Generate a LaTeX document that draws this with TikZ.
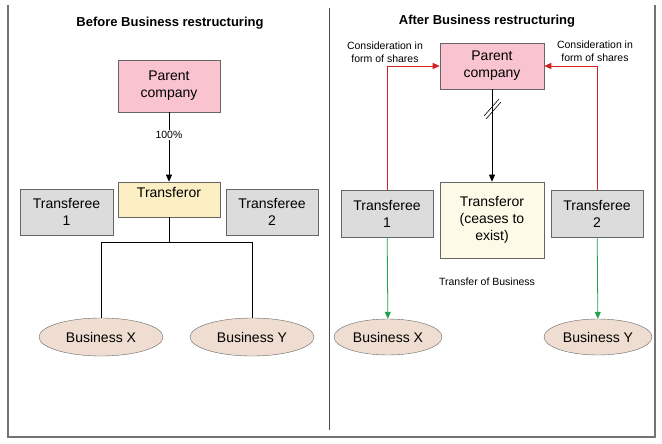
\documentclass[tikz,border=0pt]{standalone}
\usepackage{fontspec}
\setmainfont{Liberation Sans}
\usetikzlibrary{shapes.geometric,arrows.meta}
\definecolor{pinkc}{HTML}{F9C3CF}
\definecolor{yelc}{HTML}{FDEFC4}
\definecolor{creamc}{HTML}{FEFAE8}
\definecolor{grayc}{HTML}{DCDCDC}
\definecolor{ellc}{HTML}{EEDDD0}
\definecolor{redc}{HTML}{D42020}
\definecolor{greenc}{HTML}{20A050}
\begin{document}
\begin{tikzpicture}[x=1pt,y=-1pt,
  box/.style={draw=black!60,line width=0.6pt,inner sep=0pt,align=center,font=\fontsize{14}{17}\selectfont},
  ell/.style={ellipse,draw=black!60,fill=ellc,minimum width=124pt,minimum height=38pt,inner sep=0pt,font=\fontsize{14}{17}\selectfont},
  lbl/.style={font=\fontsize{10.5}{12.5}\selectfont,align=center},
  ttl/.style={font=\bfseries\fontsize{13}{15}\selectfont},
  arr/.style={-{Triangle[length=7pt,width=6pt]},line width=0.8pt}]
\useasboundingbox (0,0) rectangle (662,444);
\draw[black!55,line width=1.5pt] (8,5) -- (8,437) -- (655,437) -- (655,5);
\draw[black!70,line width=1pt] (329,8) -- (329,430);
% left
\node[ttl] (t1) at (170,23) {Before Business restructuring};
\node[box,fill=pinkc,minimum width=102pt,minimum height=52pt] (pc1) at (169,86) {Parent\\company};
\node[box,fill=yelc,minimum width=102pt,minimum height=35pt] (tf1) at (169,199.5) {Transferor\\[-3pt]\phantom{x}};
\node[box,fill=grayc,minimum width=93pt,minimum height=46pt] (te1) at (66.5,212) {Transferee\\1};
\node[box,fill=grayc,minimum width=92pt,minimum height=46pt] (te2) at (272,212) {Transferee\\2};
\node[lbl,fill=white,inner sep=1pt] (p100) at (169,135) {100\%};
\draw[arr] (pc1) -- (p100) -- (tf1);
\node[ell] (bx1) at (101,337) {Business X};
\node[ell] (by1) at (252,337) {Business Y};
\draw[line width=0.8pt] (tf1.south) -- ++(0,25) coordinate (j);
\draw[line width=0.8pt] (bx1.north) |- (j) -| (by1.north);
% right
\node[ttl] (t2) at (487,21) {After Business restructuring};
\node[box,fill=pinkc,minimum width=104pt,minimum height=46pt] (pc2) at (492,66) {Parent\\company};
\node[box,fill=creamc,minimum width=104pt,minimum height=76pt] (tf2) at (492,220) {Transferor\\(ceases to\\exist)};
\node[box,fill=grayc,minimum width=92pt,minimum height=47pt] (te3) at (387,213.5) {Transferee\\1};
\node[box,fill=grayc,minimum width=92pt,minimum height=47pt] (te4) at (597,213.5) {Transferee\\2};
\draw[arr] (pc2) -- (tf2);
\draw[line width=0.6pt] (484,116) -- (499,99) (486,119) -- (501,102);
\draw[arr,redc] (te3.north) |- (pc2.west);
\draw[arr,redc] (te4.north) |- (pc2.east);
\node[lbl] (c1) at (385,52) {Consideration in\\form of shares};
\node[lbl] (c2) at (595,51) {Consideration in\\form of shares};
\node[lbl] (tb) at (487,282) {Transfer of Business};
\node[ell,minimum width=108pt,minimum height=36pt] (bx2) at (388,337) {Business X};
\node[ell,minimum width=108pt,minimum height=36pt] (by2) at (598,337) {Business Y};
\draw[arr,greenc] (te3) -- (bx2);
\draw[arr,greenc] (te4) -- (by2);
\end{tikzpicture}
\end{document}
